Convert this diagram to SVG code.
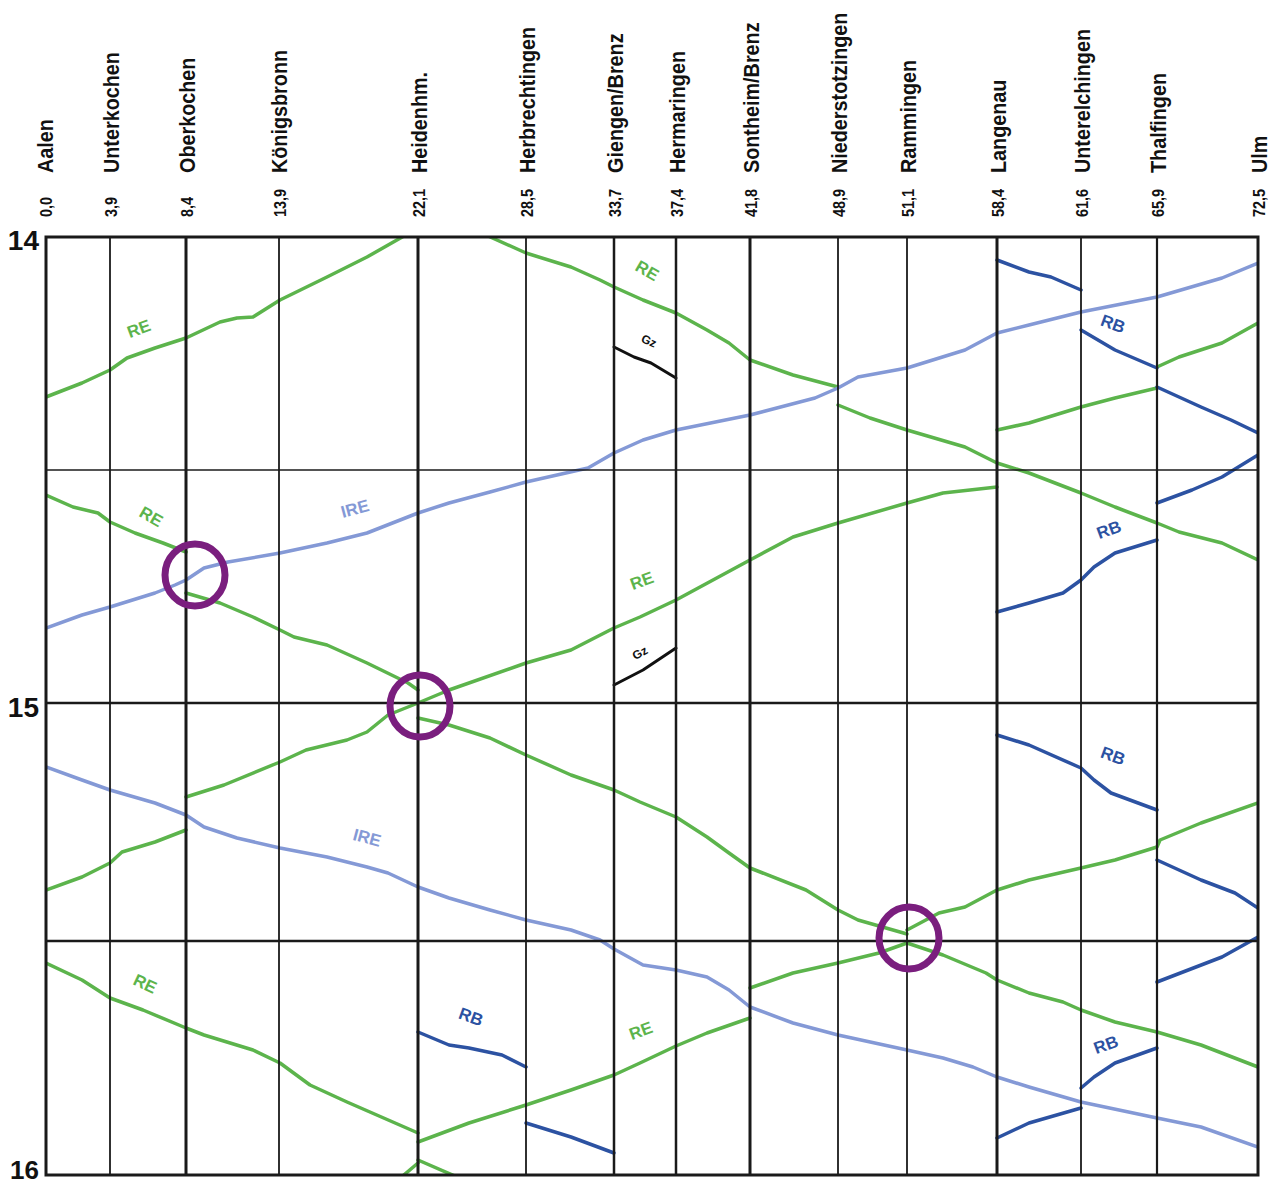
<svg xmlns="http://www.w3.org/2000/svg" width="1275" height="1186" viewBox="0 0 1275 1186">
<style>
.st{font-family:"Liberation Sans",Arial,sans-serif;font-weight:bold;font-size:22px;fill:#111}
.km{font-family:"Liberation Sans",Arial,sans-serif;font-weight:bold;font-size:17px;fill:#111}
.hr{font-family:"Liberation Sans",Arial,sans-serif;font-weight:bold;font-size:28px;fill:#111;text-anchor:end}
.gk{stroke:#1a1a1a;stroke-width:3;fill:none}
.gt{stroke:#1a1a1a;stroke-width:1.8;fill:none}
.tr{fill:none;stroke-width:3.5;stroke-linejoin:round;stroke-linecap:round}
.re{stroke:#5cb44c}
.ire{stroke:#8499d6}
.rb{stroke:#2c52a2}
.gz{stroke:#111;stroke-width:3}
.lb{font-family:"Liberation Sans",Arial,sans-serif;font-size:17px;font-weight:bold;text-anchor:middle;dominant-baseline:central}
.lre{fill:#5cb44c}
.lire{fill:#8499d6}
.lrb{fill:#2c52a2}
.lgz{fill:#111;font-size:12px}
.ring{fill:none;stroke:#7a1e7e;stroke-width:7}
</style>
<defs>
<clipPath id="area"><rect x="46" y="237" width="1212" height="938"/></clipPath>
</defs>
<rect width="1275" height="1186" fill="#fff"/>

<g id="stations">
<g id="st-aalen"><text class="st" transform="translate(53,173) rotate(-90) scale(0.9,1)">Aalen</text><text class="km" transform="translate(52,217) rotate(-90) scale(0.85,1)">0,0</text></g>
<g id="st-unterkochen"><text class="st" transform="translate(119,173) rotate(-90) scale(0.9,1)">Unterkochen</text><text class="km" transform="translate(117,217) rotate(-90) scale(0.85,1)">3,9</text></g>
<g id="st-oberkochen"><text class="st" transform="translate(195,173) rotate(-90) scale(0.9,1)">Oberkochen</text><text class="km" transform="translate(193,217) rotate(-90) scale(0.85,1)">8,4</text></g>
<g id="st-koenigsbronn"><text class="st" transform="translate(287,173) rotate(-90) scale(0.9,1)">Königsbronn</text><text class="km" transform="translate(286,217) rotate(-90) scale(0.85,1)">13,9</text></g>
<g id="st-heidenheim"><text class="st" transform="translate(427,173) rotate(-90) scale(0.9,1)">Heidenhm.</text><text class="km" transform="translate(425,217) rotate(-90) scale(0.85,1)">22,1</text></g>
<g id="st-herbrechtingen"><text class="st" transform="translate(535,173) rotate(-90) scale(0.9,1)">Herbrechtingen</text><text class="km" transform="translate(533,217) rotate(-90) scale(0.85,1)">28,5</text></g>
<g id="st-giengen"><text class="st" transform="translate(623,173) rotate(-90) scale(0.9,1)">Giengen/Brenz</text><text class="km" transform="translate(621,217) rotate(-90) scale(0.85,1)">33,7</text></g>
<g id="st-hermaringen"><text class="st" transform="translate(685,173) rotate(-90) scale(0.9,1)">Hermaringen</text><text class="km" transform="translate(683,217) rotate(-90) scale(0.85,1)">37,4</text></g>
<g id="st-sontheim"><text class="st" transform="translate(759,173) rotate(-90) scale(0.9,1)">Sontheim/Brenz</text><text class="km" transform="translate(757,217) rotate(-90) scale(0.85,1)">41,8</text></g>
<g id="st-niederstotzingen"><text class="st" transform="translate(847,173) rotate(-90) scale(0.9,1)">Niederstotzingen</text><text class="km" transform="translate(845,217) rotate(-90) scale(0.85,1)">48,9</text></g>
<g id="st-rammingen"><text class="st" transform="translate(916,173) rotate(-90) scale(0.9,1)">Rammingen</text><text class="km" transform="translate(914,217) rotate(-90) scale(0.85,1)">51,1</text></g>
<g id="st-langenau"><text class="st" transform="translate(1006,173) rotate(-90) scale(0.9,1)">Langenau</text><text class="km" transform="translate(1004,217) rotate(-90) scale(0.85,1)">58,4</text></g>
<g id="st-unterelchingen"><text class="st" transform="translate(1090,173) rotate(-90) scale(0.9,1)">Unterelchingen</text><text class="km" transform="translate(1088,217) rotate(-90) scale(0.85,1)">61,6</text></g>
<g id="st-thalfingen"><text class="st" transform="translate(1166,173) rotate(-90) scale(0.9,1)">Thalfingen</text><text class="km" transform="translate(1164,217) rotate(-90) scale(0.85,1)">65,9</text></g>
<g id="st-ulm"><text class="st" transform="translate(1267,173) rotate(-90) scale(0.9,1)">Ulm</text><text class="km" transform="translate(1265,217) rotate(-90) scale(0.85,1)">72,5</text></g>
</g>

<g id="hours">
<text class="hr" x="39" y="250">14</text>
<text class="hr" x="39" y="717">15</text>
<text class="hr" x="39" y="1179" style="font-size:26px">16</text>
</g>

<g id="connectors" clip-path="url(#area)">
<g id="re-trains">
<polyline class="tr re" points="46,397 82,383 110,370 127,358 155,348 186,338 220,322 237,318 253,317 280,300 327,277 367,257 404,236"/>
<polyline class="tr re" points="488,236 526,253 571,267 600,280 614,287 643,300 676,313 707,330 729,343 750,360 793,375 838,387"/>
<polyline class="tr re" points="838,405 870,418 907,430 965,447 997,463 1029,473 1081,493 1115,507 1157,523 1179,532 1222,543 1258,560"/>
<polyline class="tr re" points="46,495 73,507 98,513 110,522 135,533 163,543 186,552"/>
<polyline class="tr re" points="186,593 220,603 253,617 280,630 294,637 327,645 367,663 408,683 418,690"/>
<polyline class="tr re" points="418,718 449,725 490,738 526,755 571,775 614,790 640,802 676,817 707,837 729,853 750,868 806,890 838,910 858,920 907,934"/>
<polyline class="tr re" points="907,943 943,955 986,973 997,980 1029,993 1063,1002 1081,1010 1115,1022 1157,1032 1201,1045 1258,1067"/>
<polyline class="tr re" points="46,890 82,877 110,863 122,852 155,842 186,830"/>
<polyline class="tr re" points="186,797 224,785 280,762 306,750 347,740 367,732 388,715 418,703 449,690 526,663 571,650 614,628 640,617 676,600 750,560 793,537 838,523 907,503 943,493 997,487"/>
<polyline class="tr re" points="398,1180 418,1163"/>
<polyline class="tr re" points="418,1142 469,1123 526,1105 571,1090 614,1075 640,1063 676,1046 707,1033 750,1018"/>
<polyline class="tr re" points="750,988 793,973 838,963 879,953 907,943"/>
<polyline class="tr re" points="907,930 939,913 965,907 997,890 1029,880 1081,868 1115,860 1157,847 1160,840 1201,823 1258,803"/>
<polyline class="tr re" points="46,963 82,980 110,998 143,1010 186,1028 204,1035 253,1050 280,1063 310,1085 347,1102 418,1133"/>
<polyline class="tr re" points="418,1160 464,1180"/>
<polyline class="tr re" points="997,430 1029,423 1081,407 1115,398 1157,388"/>
<polyline class="tr re" points="1157,367 1179,357 1222,343 1258,323"/>
</g>
<g id="ire-trains">
<polyline class="tr ire" points="46,628 82,615 110,607 155,593 175,585 186,580 204,568 228,562 280,553 327,543 367,533 418,513 449,503 490,492 526,482 588,468 614,453 643,440 676,430 750,415 815,398 838,388 858,377 907,368 965,350 997,333 1029,325 1081,312 1157,297 1222,278 1258,263"/>
<polyline class="tr ire" points="46,767 82,780 110,790 155,803 186,815 204,827 237,838 280,848 327,857 367,867 388,873 418,887 449,898 490,910 526,920 571,930 600,940 614,949 643,965 676,970 707,977 729,990 750,1007 793,1023 838,1035 907,1050 943,1058 973,1067 997,1077 1029,1087 1081,1102 1157,1118 1201,1127 1258,1147"/>
</g>
<g id="rb-trains">
<polyline class="tr rb" points="997,260 1029,272 1051,277 1081,290"/>
<polyline class="tr rb" points="1081,330 1115,350 1157,368"/>
<polyline class="tr rb" points="1157,387 1201,407 1231,420 1258,433"/>
<polyline class="tr rb" points="1258,455 1222,477 1192,490 1157,503"/>
<polyline class="tr rb" points="1157,540 1115,553 1094,567 1081,580 1063,593 1029,603 997,612"/>
<polyline class="tr rb" points="997,735 1029,745 1081,768 1094,780 1111,793 1157,810"/>
<polyline class="tr rb" points="1157,860 1201,880 1235,893 1258,908"/>
<polyline class="tr rb" points="1258,937 1222,957 1157,982"/>
<polyline class="tr rb" points="1157,1048 1115,1063 1094,1077 1081,1088"/>
<polyline class="tr rb" points="1081,1108 1029,1123 997,1138"/>
<polyline class="tr rb" points="418,1032 449,1045 469,1048 502,1055 526,1067"/>
<polyline class="tr rb" points="526,1123 571,1137 614,1153"/>
</g>
<g id="gz-trains">
<polyline class="tr gz" points="614,347 634,357 651,363 676,378"/>
<polyline class="tr gz" points="614,685 643,670 676,648"/>
</g>
</g>

<g id="grid">
<line class="gt" x1="46" y1="470" x2="1258" y2="470" style="stroke-width:1.5"/>
<line class="gk" x1="46" y1="703" x2="1258" y2="703" style="stroke-width:2.5"/>
<line class="gk" x1="46" y1="941" x2="1258" y2="941" style="stroke-width:2.5"/>
<line class="gt" x1="110" y1="237" x2="110" y2="1175"/>
<line class="gk" x1="186" y1="237" x2="186" y2="1175"/>
<line class="gt" x1="279" y1="237" x2="279" y2="1175"/>
<line class="gk" x1="418" y1="237" x2="418" y2="1175"/>
<line class="gt" x1="526" y1="237" x2="526" y2="1175"/>
<line class="gk" x1="614" y1="237" x2="614" y2="1175" style="stroke-width:2.5"/>
<line class="gk" x1="676" y1="237" x2="676" y2="1175" style="stroke-width:2.5"/>
<line class="gk" x1="750" y1="237" x2="750" y2="1175"/>
<line class="gt" x1="838" y1="237" x2="838" y2="1175"/>
<line class="gt" x1="907" y1="237" x2="907" y2="1175"/>
<line class="gk" x1="997" y1="237" x2="997" y2="1175"/>
<line class="gt" x1="1081" y1="237" x2="1081" y2="1175"/>
<line class="gt" x1="1157" y1="237" x2="1157" y2="1175" style="stroke-width:2.2"/>
<rect class="gk" x="46" y="237" width="1212" height="938"/>
</g>

<g id="labels">
<text class="lb lre" transform="translate(139,329) rotate(-20)">RE</text>
<text class="lb lre" transform="translate(151,517) rotate(30)">RE</text>
<text class="lb lire" transform="translate(355,509) rotate(-15)">IRE</text>
<text class="lb lre" transform="translate(647,271) rotate(30)">RE</text>
<text class="lb lgz" transform="translate(649,341) rotate(25)">Gz</text>
<text class="lb lre" transform="translate(642,581) rotate(-20)">RE</text>
<text class="lb lgz" transform="translate(640,653) rotate(-30)">Gz</text>
<text class="lb lrb" transform="translate(1113,324) rotate(20)">RB</text>
<text class="lb lrb" transform="translate(1109,530) rotate(-20)">RB</text>
<text class="lb lire" transform="translate(367,838) rotate(15)">IRE</text>
<text class="lb lrb" transform="translate(1113,756) rotate(20)">RB</text>
<text class="lb lre" transform="translate(145,984) rotate(25)">RE</text>
<text class="lb lrb" transform="translate(471,1017) rotate(20)">RB</text>
<text class="lb lre" transform="translate(641,1031) rotate(-20)">RE</text>
<text class="lb lrb" transform="translate(1106,1045) rotate(-20)">RB</text>
</g>

<g id="crossings">
<ellipse id="x1" class="ring" cx="195" cy="575" rx="30" ry="31"/>
<ellipse id="x2" class="ring" cx="420" cy="706" rx="30" ry="31"/>
<ellipse id="x3" class="ring" cx="909" cy="938" rx="30" ry="31"/>
</g>
</svg>
